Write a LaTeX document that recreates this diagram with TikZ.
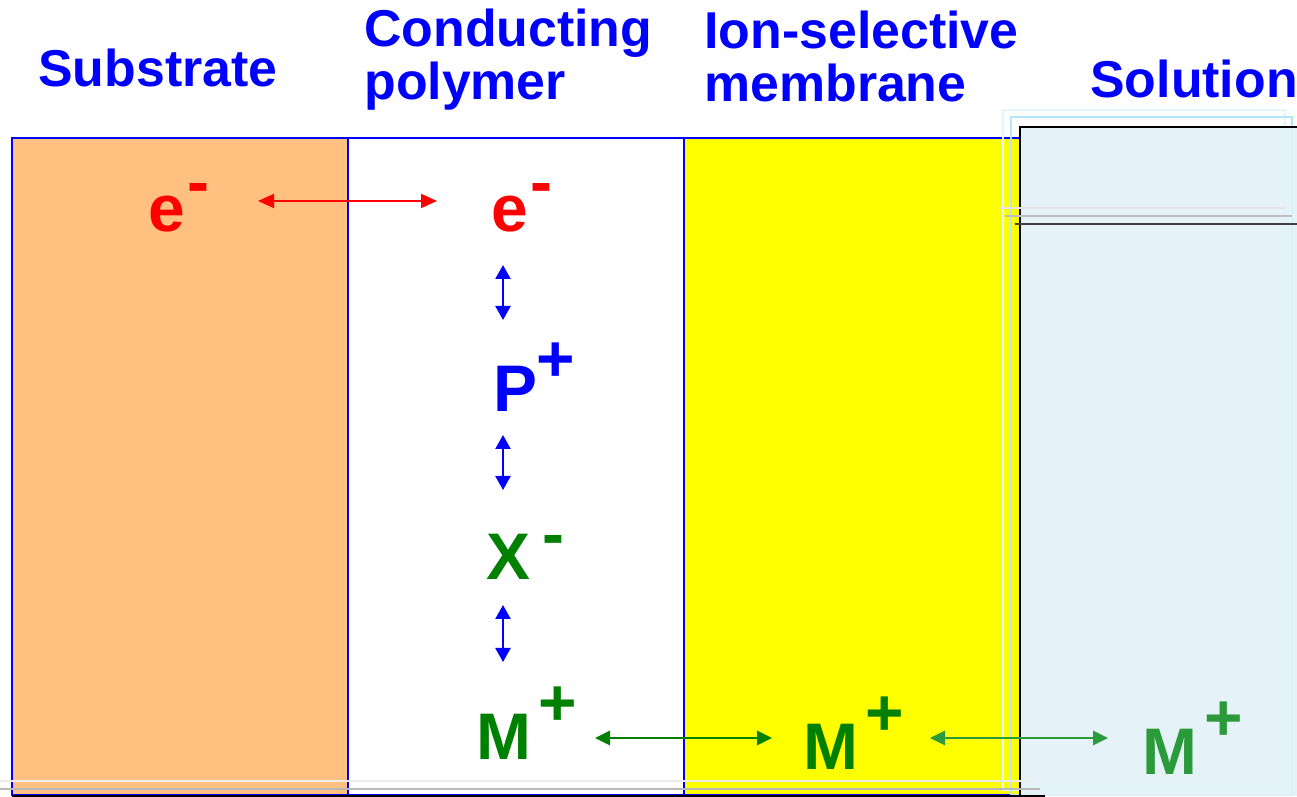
\documentclass[tikz,border=0pt]{standalone}
\usepackage{fontspec}
\setmainfont{Liberation Sans}
\usepackage{tikz}
\usepackage{xcolor}
\usetikzlibrary{arrows.meta,calc}

\definecolor{headblue}{HTML}{0000FF}
\definecolor{substratefill}{HTML}{FFC080}
\definecolor{membranefill}{HTML}{FFFF00}
\definecolor{solutionfill}{HTML}{E2F2F8}
\definecolor{ionred}{HTML}{FF0000}
\definecolor{iongreen}{HTML}{008000}
\definecolor{soliongreen}{HTML}{2A9A3A}

% ion symbol with its charge set as a raised sign that takes no room
\newcommand{\ionsym}[4]{#1\smash{\rlap{\kern#4\raisebox{#3}{#2}}}}

\begin{document}
\begin{tikzpicture}[x=0.02cm,y=0.02cm,
    layer/.style={draw=headblue, line width=1.1pt},
    heading/.style={font=\bfseries\fontsize{29.5}{30.5}\selectfont, text=headblue, inner sep=0pt, align=left},
    species/.style={font=\bfseries\fontsize{37.5}{40}\selectfont, inner sep=0pt, anchor=base},
    eflow/.style={ionred, line width=1.1pt, {Triangle[length=0.32cm,width=0.28cm]}-{Triangle[length=0.32cm,width=0.28cm]}},
    chainflow/.style={headblue, line width=1.3pt, {Triangle[length=0.28cm,width=0.3cm]}-{Triangle[length=0.28cm,width=0.3cm]}},
    mflow/.style={line width=1.6pt, {Triangle[length=0.3cm,width=0.28cm]}-{Triangle[length=0.3cm,width=0.28cm]}}]
		\useasboundingbox (0,0) rectangle (1297,797);
		
		% the three layers
		\fill[substratefill] (12,2) rectangle (348,659);
		\fill[membranefill] (684,2) rectangle (1020,659);
		\draw[layer] (12,2) rectangle (348,659);
		\draw[layer] (348,2) rectangle (684,659);
		\draw[layer] (684,2) rectangle (1020,659);
		
		% solution side with its faint outlines
		\draw[cyan!12, line width=1pt] (1003,7) rectangle (1285,687);
		\draw[cyan!30, line width=1pt] (1011,2) rectangle (1292,680);
		\fill[solutionfill, opacity=0.9] (1020,1) rectangle (1297,670);
		\draw[black, line width=1.1pt] (1020,1) -- (1020,670) -- (1297,670);
		\draw[gray!20, line width=1pt] (1000,589) -- (1285,589);
		\draw[gray!50, line width=1pt] (1005,581) -- (1292,581);
		\draw[black!75, line width=0.9pt] (1015,573) -- (1297,573);
		
		% lines along the bottom
		\draw[gray!15, line width=1pt] (0,16) -- (1030,16);
		\draw[gray!55, line width=1pt] (0,8) -- (1040,8);
		\draw[black, line width=1pt] (12,1) -- (1045,1);
		
		% headings (base is the last line)
		\node[heading, anchor=base west] (substrate) at (38,710) {Substrate};
		\node[heading, anchor=base west] (polymer) at (364,697) {Conducting\\polymer};
		\node[heading, anchor=base west] (membrane) at (704,695) {Ion-selective\\membrane};
		\node[heading, anchor=base west] (solution) at (1090,699) {Solution};
		
		% charge carriers
		\node[species, text=ionred] (eS) at (167,565) {\ionsym{e}{-}{0.41em}{1pt}};
		\node[species, text=ionred] (eP) at (510,565) {\ionsym{e}{-}{0.41em}{1pt}};
		\node[species, text=headblue] (P) at (515,385) {\ionsym{P}{+}{0.47em}{0pt}};
		\node[species, text=iongreen] (X) at (508,217) {\ionsym{X}{-}{0.35em}{7pt}};
		\node[species, text=iongreen] (Mp) at (504,37) {\ionsym{M}{+}{0.53em}{4pt}};
		\node[species, text=iongreen] (Mm) at (831,27) {\ionsym{M}{+}{0.53em}{4pt}};
		\node[species, text=soliongreen] (Ms) at (1170,22) {\ionsym{M}{+}{0.53em}{4pt}};
		
		% exchange arrows
		\draw[eflow] ($(eS.base)+(91,31)$) -- ($(eP.base)+(-73,31)$);
		\draw[chainflow] ($(eP.base)+(-7,-33)$) -- ($(P.base)+(-12,92)$);
		\draw[chainflow] ($(P.base)+(-12,-23)$) -- ($(X.base)+(-5,90)$);
		\draw[chainflow] ($(X.base)+(-5,-25)$) -- ($(Mp.base)+(-1,98)$);
		\draw[mflow, iongreen] ($(Mp.base)+(91,22)$) -- ($(Mm.base)+(-59,32)$);
		\draw[mflow, soliongreen] ($(Mm.base)+(99,32)$) -- ($(Ms.base)+(-62,37)$);
	\end{tikzpicture}
\end{document}
